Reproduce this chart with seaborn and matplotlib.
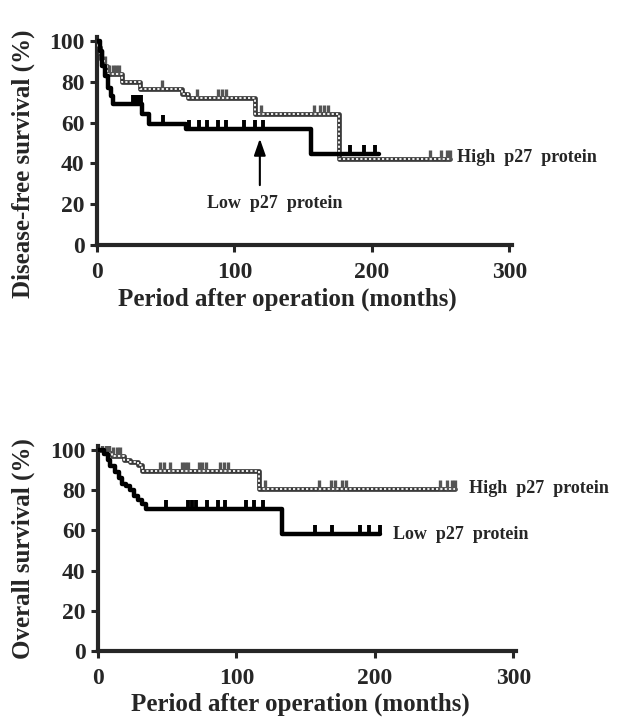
import numpy as np
import pandas as pd
import seaborn as sns
import matplotlib.pyplot as plt

# disease-free survival, low p27
dfs_low_t = [0, 2, 4, 6, 8, 10, 12, 33, 38, 65, 156]
dfs_low_s = [100, 95, 88, 83, 77, 73, 69, 64, 59.5, 57, 44.5]
dfs_low_end = 205
dfs_low_cens = [26, 28, 30, 32, 48, 67, 74, 80, 88, 94, 107, 115, 121, 184, 194, 202]

# disease-free survival, high p27
dfs_high_t = [0, 1, 2, 3, 5, 7, 18, 31, 62, 66, 115, 176]
dfs_high_s = [100, 97, 94, 91, 88, 84, 80, 76.5, 74, 72, 64, 42]
dfs_high_end = 257
dfs_high_cens = [4, 6, 9, 12, 14, 16, 47, 73, 88, 91, 94, 119, 158, 162, 165, 168, 242, 250, 255, 257]

# overall survival, low p27
os_low_t = [0, 4, 7, 9, 12, 15, 17, 20, 23, 26, 29, 32, 35, 133]
os_low_s = [100, 98, 95, 92, 89, 86, 83, 82, 80, 77, 75, 73, 70.5, 58]
os_low_end = 204
os_low_cens = [49, 65, 68, 71, 79, 87, 92, 107, 113, 119, 157, 169, 189, 196, 204]

# overall survival, high p27
os_high_t = [0, 5, 10, 19, 23, 29, 32, 116]
os_high_s = [100, 98.5, 97, 95, 94, 92.5, 89.5, 80.5]
os_high_end = 258
os_high_cens = [3, 6, 8, 11, 14, 16, 45, 48, 52, 61, 63, 65, 73, 75, 78, 88, 91, 94,
                121, 160, 168, 171, 176, 179, 247, 252, 256, 258]

x_ticks = [0, 100, 200, 300]
y_ticks = [0, 20, 40, 60, 80, 100]

sns.set_style("ticks")
plt.rcParams['font.family'] = ['Liberation Serif', 'DejaVu Serif']
plt.rcParams['font.weight'] = 'bold'


def km_curve(ax, t, s, end, cens, high):
    df = pd.DataFrame({"t": list(t) + [end], "s": list(s) + [s[-1]]})
    idx = np.searchsorted(t, cens, side="right") - 1
    cdf = pd.DataFrame({"t": cens, "s": np.array(s)[idx] + 2.0})
    if high:
        sns.lineplot(data=df, x="t", y="s", ax=ax, drawstyle="steps-post", estimator=None,
                     sort=False, color="#3a3a3a", lw=3.4, zorder=3)
        sns.lineplot(data=df, x="t", y="s", ax=ax, drawstyle="steps-post", estimator=None,
                     sort=False, color="white", lw=1.3, ls=(0, (1.2, 1.2)), zorder=4)
        sns.scatterplot(data=cdf, x="t", y="s", ax=ax, marker="|", s=60, color="#555555",
                        linewidth=2.4, zorder=3)
    else:
        sns.lineplot(data=df, x="t", y="s", ax=ax, drawstyle="steps-post", estimator=None,
                     sort=False, color="black", lw=3.2, zorder=5)
        sns.scatterplot(data=cdf, x="t", y="s", ax=ax, marker="|", s=60, color="black",
                        linewidth=2.8, zorder=5)


def style_axes(ax, ylabel, ly, lx):
    ax.set_xlim(0, 302)
    ax.set_ylim(0, 102)
    ax.set_xticks(x_ticks)
    ax.set_yticks(y_ticks)
    ax.tick_params(labelsize=17, width=2.2, length=5, pad=4)
    ax.tick_params(axis="x", pad=7)
    for lab in ax.get_xticklabels() + ax.get_yticklabels():
        lab.set_fontweight("bold")
    sns.despine(ax=ax)
    for sp in ("left", "bottom"):
        ax.spines[sp].set_linewidth(3)
    ax.set_xlabel("Period after operation (months)", fontsize=18, fontweight="bold")
    ax.set_ylabel(ylabel, fontsize=18, fontweight="bold")
    ax.yaxis.set_label_coords(-0.15, ly)
    ax.xaxis.set_label_coords(lx, -0.205)


fig = plt.figure(figsize=(6.41, 7.28), dpi=100)

ax1 = fig.add_axes([97 / 641, 1 - 245 / 728, 415 / 641, 208 / 728])
km_curve(ax1, dfs_high_t, dfs_high_s, dfs_high_end, dfs_high_cens, True)
km_curve(ax1, dfs_low_t, dfs_low_s, dfs_low_end, dfs_low_cens, False)
style_axes(ax1, "Disease-free survival (%)", 0.39, 0.458)
ax1.text(262, 43, "High  p27  protein", fontsize=13, fontweight="bold", va="center", ha="left")
ax1.text(129, 20.5, "Low  p27  protein", fontsize=13, fontweight="bold", va="center", ha="center")
ax1.annotate("", xy=(118.5, 53.5), xytext=(118.5, 28),
             arrowprops=dict(arrowstyle="-|>,head_length=1.0,head_width=0.35", color="black", lw=1.5))

ax2 = fig.add_axes([98 / 641, 1 - 651 / 728, 418 / 641, 205 / 728])
km_curve(ax2, os_high_t, os_high_s, os_high_end, os_high_cens, True)
km_curve(ax2, os_low_t, os_low_s, os_low_end, os_low_cens, False)
style_axes(ax2, "Overall survival (%)", 0.5, 0.483)
ax2.text(268, 81, "High  p27  protein", fontsize=13, fontweight="bold", va="center", ha="left")
ax2.text(213, 58, "Low  p27  protein", fontsize=13, fontweight="bold", va="center", ha="left")

fig.savefig("out.png", dpi=100)
